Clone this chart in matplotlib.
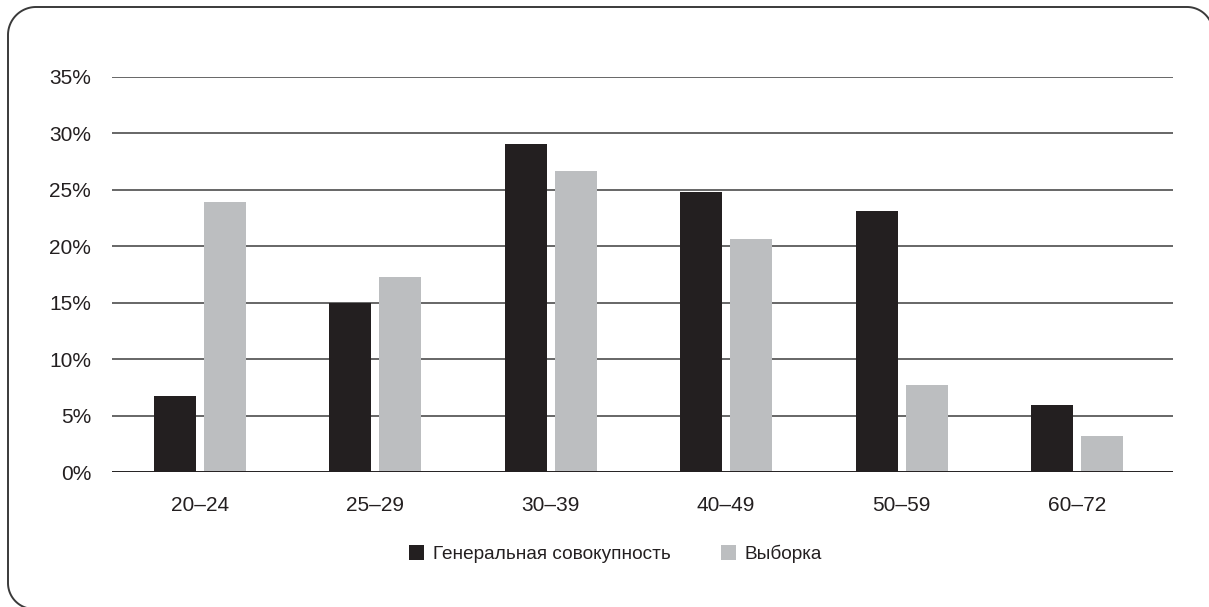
import matplotlib
matplotlib.use("Agg")
import matplotlib.pyplot as plt
import numpy as np
from matplotlib.patches import Patch
from matplotlib.lines import Line2D

categories = ["20–24", "25–29", "30–39", "40–49", "50–59", "60–72"]
general = [6.7, 15.0, 29.0, 24.8, 23.1, 5.9]
sample = [23.9, 17.3, 26.6, 20.65, 7.7, 3.2]
series_names = ["Генеральная совокупность", "Выборка"]
yticks = [0, 5, 10, 15, 20, 25, 30, 35]

black = "#231f20"
gray = "#bcbec0"
text_color = "#231f20"

plt.rcParams['font.family'] = ['Liberation Sans', 'DejaVu Sans']

W, H = 1209, 607
fig = plt.figure(figsize=(W / 100, H / 100), dpi=100)
fig.patch.set_facecolor("white")

# rounded outer frame, open path (top, left and corners), in inches
def arc(cx, cy, r, a0, a1, n=40):
    t = np.radians(np.linspace(a0, a1, n))
    return cx + r * np.cos(t), cy - r * np.sin(t)

segs_x, segs_y = [], []
for cx, cy, r, a0, a1 in [(1187, 33, 26, 0, 90), (36, 35, 28, 90, 180), (34, 583, 26, 180, 270)]:
    ax_, ay_ = arc(cx, cy, r, a0, a1)
    segs_x.append(ax_)
    segs_y.append(ay_)
fx = np.concatenate(segs_x)
fy = np.concatenate(segs_y)
frame = Line2D(fx / 100, (H - fy) / 100, transform=fig.dpi_scale_trans,
               color="#3a3a3a", linewidth=1.4, solid_capstyle='butt')
fig.add_artist(frame)

ax = fig.add_axes([112 / W, 1 - 472 / H, (1173 - 112) / W, (472 - 76.5) / H])
x = np.arange(len(categories))
bw = 0.239
off = 0.1424
ax.bar(x - off, general, width=bw, color=black, zorder=3, label=series_names[0])
ax.bar(x + off, sample, width=bw, color=gray, zorder=3, label=series_names[1])

ax.set_xlim(-0.5, len(categories) - 0.453)
ax.set_ylim(0, 35)
ax.set_yticks(yticks)
ax.set_yticklabels([f"{v}%" for v in yticks])
ax.set_xticks(x)
ax.set_xticklabels(categories)
ax.tick_params(axis='both', length=0, labelsize=15, colors=text_color)
ax.tick_params(axis='y', pad=15)
ax.tick_params(axis='x', pad=17)

for v in yticks[1:]:
    ax.axhline(v, color="#4d4d4d", linewidth=1.2, zorder=1)
ax.axhline(0, color=black, linewidth=1.4, zorder=4)

for s in ax.spines.values():
    s.set_visible(False)

handles = [Patch(facecolor=black, edgecolor='none'), Patch(facecolor=gray, edgecolor='none')]
leg = fig.legend(handles, series_names, loc='center', bbox_to_anchor=(615.5 / W, 1 - 554 / H),
                 ncol=2, frameon=False, fontsize=13.7, handlelength=0.8, handleheight=0.8,
                 handletextpad=0.43, columnspacing=2.67, borderpad=0)
for t in leg.get_texts():
    t.set_color(text_color)

fig.savefig("out.png", dpi=100, facecolor="white")
